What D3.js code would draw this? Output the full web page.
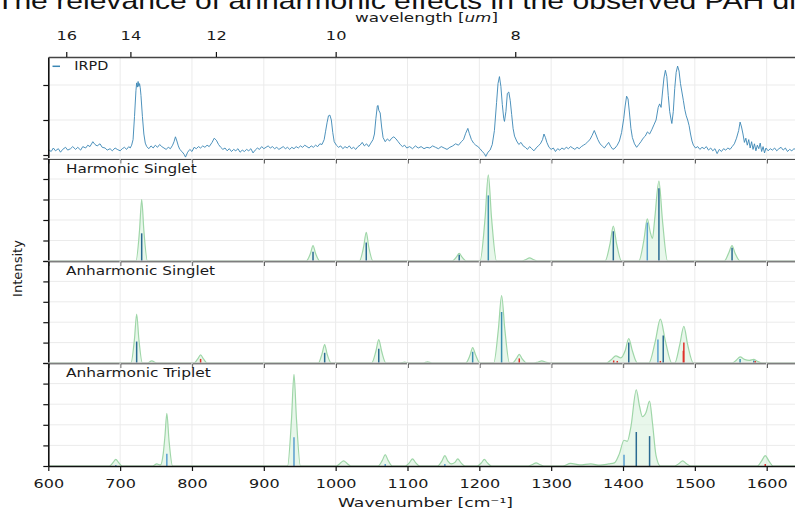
<!DOCTYPE html>
<html>
<head>
<meta charset="utf-8">
<script src="https://cdn.jsdelivr.net/npm/d3@7"></script>
<style>
  body { margin: 0; background: #fff; overflow: hidden; }
  svg { display: block; font-family: "DejaVu Sans", sans-serif; }
</style>
</head>
<body>
<svg id="chart" width="795" height="516"></svg>
<script>
// ---- data ----
var wnTicks = [600, 700, 800, 900, 1000, 1100, 1200, 1300, 1400, 1500, 1600];
var wavelengthTicks = [16, 14, 12, 10, 8];
var panelNames = ["IRPD", "Harmonic Singlet", "Anharmonic Singlet", "Anharmonic Triplet"];

// measured IRPD spectrum [wavenumber, intensity]
var irpd = [
  [600,0.08],[604,0.05],[607,0.10],[610,0.06],[614,0.09],[617,0.04],[620,0.08],[624,0.11],[627,0.07],[631,0.09],
  [634,0.12],[638,0.08],[641,0.11],[645,0.07],[648,0.12],[652,0.10],[655,0.14],[658,0.12],[662,0.19],[665,0.15],
  [668,0.13],[672,0.16],[675,0.11],[679,0.10],[682,0.07],[686,0.09],[689,0.06],[693,0.10],[696,0.08],[700,0.06],
  [703,0.09],[706,0.11],[709,0.08],[712,0.12],[714,0.10],[716,0.14],[718,0.22],[720,0.55],[722,0.92],[723,1.03],
  [724,0.97],[725,1.05],[726,0.98],[727,1.02],[728,0.96],[729,0.85],[731,0.55],[733,0.30],[735,0.17],[737,0.12],
  [740,0.09],[743,0.13],[746,0.10],[749,0.14],[752,0.11],[755,0.15],[758,0.12],[761,0.10],[764,0.08],[767,0.11],
  [770,0.09],[773,0.14],[775,0.19],[777,0.26],[779,0.20],[781,0.13],[783,0.08],[786,0.05],[789,0.01],[791,-0.03],
  [794,0.04],[797,0.08],[800,0.05],[803,0.11],[806,0.09],[809,0.12],[812,0.10],[815,0.13],[818,0.11],[821,0.14],
  [824,0.12],[828,0.18],[831,0.24],[834,0.21],[837,0.15],[840,0.11],[843,0.08],[846,0.10],[849,0.06],[852,0.09],
  [855,0.05],[858,0.08],[861,0.06],[864,0.09],[867,0.04],[870,0.07],[873,0.05],[876,0.08],[879,0.06],[882,0.09],
  [885,0.03],[888,0.07],[891,0.10],[894,0.08],[897,0.12],[900,0.09],[903,0.11],[906,0.13],[909,0.10],[912,0.12],
  [915,0.09],[918,0.11],[921,0.08],[924,0.10],[927,0.12],[930,0.09],[933,0.11],[936,0.08],[939,0.11],[942,0.09],
  [945,0.12],[948,0.10],[951,0.13],[954,0.11],[957,0.14],[960,0.12],[963,0.10],[966,0.13],[969,0.11],[972,0.14],
  [975,0.12],[978,0.16],[981,0.15],[984,0.22],[986,0.34],[988,0.46],[990,0.56],[992,0.57],[994,0.50],[996,0.32],
  [998,0.19],[1001,0.14],[1004,0.11],[1007,0.13],[1010,0.09],[1013,0.12],[1016,0.10],[1019,0.13],[1022,0.09],[1025,0.11],
  [1028,0.08],[1031,0.12],[1034,0.14],[1037,0.18],[1040,0.13],[1043,0.16],[1046,0.12],[1049,0.17],[1052,0.22],[1054,0.30],
  [1056,0.52],[1058,0.70],[1059,0.71],[1060,0.64],[1062,0.60],[1064,0.40],[1066,0.25],[1069,0.19],[1072,0.23],[1075,0.20],
  [1078,0.24],[1081,0.26],[1084,0.23],[1087,0.19],[1090,0.15],[1093,0.12],[1096,0.14],[1099,0.10],[1103,0.12],[1107,0.09],
  [1111,0.13],[1115,0.10],[1119,0.12],[1123,0.09],[1127,0.11],[1131,0.10],[1135,0.13],[1139,0.11],[1143,0.09],[1147,0.12],
  [1151,0.10],[1155,0.08],[1159,0.11],[1163,0.13],[1167,0.16],[1171,0.14],[1175,0.19],[1178,0.22],[1181,0.31],[1184,0.38],
  [1186,0.31],[1189,0.22],[1192,0.17],[1195,0.14],[1198,0.12],[1201,0.09],[1204,0.05],[1207,0.02],[1209,-0.02],[1212,0.04],
  [1215,0.07],[1218,0.15],[1221,0.35],[1224,0.75],[1226,1.02],[1228,1.12],[1230,0.98],[1232,0.72],[1234,0.52],[1235,0.48],
  [1237,0.62],[1239,0.88],[1241,0.90],[1243,0.78],[1245,0.58],[1247,0.38],[1249,0.27],[1252,0.20],[1255,0.15],[1258,0.18],
  [1261,0.13],[1264,0.11],[1267,0.08],[1270,0.12],[1273,0.09],[1276,0.06],[1279,0.10],[1282,0.13],[1285,0.16],[1288,0.22],
  [1290,0.30],[1292,0.25],[1294,0.18],[1297,0.11],[1300,0.08],[1303,0.10],[1306,0.05],[1309,0.09],[1312,0.07],[1315,0.10],
  [1318,0.08],[1321,0.11],[1324,0.09],[1327,0.12],[1330,0.10],[1333,0.08],[1336,0.11],[1339,0.09],[1342,0.12],[1345,0.14],
  [1348,0.16],[1351,0.19],[1354,0.22],[1357,0.28],[1360,0.35],[1362,0.30],[1365,0.22],[1368,0.16],[1371,0.13],[1374,0.10],
  [1377,0.14],[1380,0.18],[1383,0.12],[1386,0.08],[1389,0.10],[1392,0.14],[1395,0.20],[1398,0.32],[1401,0.52],[1403,0.70],
  [1405,0.84],[1407,0.80],[1409,0.60],[1411,0.38],[1413,0.25],[1416,0.16],[1419,0.11],[1422,0.15],[1425,0.19],[1428,0.24],
  [1431,0.27],[1434,0.33],[1437,0.30],[1440,0.36],[1443,0.43],[1446,0.50],[1449,0.68],[1451,0.73],[1453,0.68],[1455,0.90],
  [1457,1.10],[1459,1.21],[1461,1.12],[1463,0.85],[1465,0.62],[1467,0.50],[1468,0.45],[1470,0.62],[1472,0.95],[1474,1.18],
  [1476,1.27],[1478,1.20],[1480,1.02],[1482,0.90],[1484,0.78],[1486,0.65],[1488,0.56],[1490,0.50],[1492,0.42],[1494,0.30],
  [1496,0.20],[1498,0.14],[1501,0.10],[1504,0.12],[1507,0.08],[1510,0.11],[1513,0.09],[1516,0.12],[1519,0.07],[1522,0.10],
  [1525,0.06],[1528,0.09],[1531,0.02],[1534,0.08],[1537,0.05],[1540,0.09],[1543,0.07],[1546,0.10],[1549,0.08],[1552,0.12],
  [1555,0.16],[1558,0.24],[1561,0.35],[1563,0.47],[1565,0.40],[1567,0.30],[1569,0.18],[1571,0.24],[1573,0.14],[1575,0.22],
  [1577,0.10],[1579,0.19],[1581,0.08],[1583,0.16],[1585,0.06],[1587,0.14],[1589,0.09],[1591,0.17],[1593,0.05],[1595,0.12],
  [1597,0.03],[1599,0.10],[1602,0.06],[1605,0.09],[1608,0.07],[1611,0.10],[1614,0.06],[1617,0.09],[1620,0.11],[1623,0.07],
  [1626,0.10],[1629,0.05],[1632,0.08],[1635,0.06],[1638,0.09],[1642,0.07],[1646,0.08],[1650,0.06]
];

// broadened envelopes [wavenumber, intensity]
var harmonicEnvelope = [
  [600,0],[722,0],[727,0.3],[730,0.6],[733,0.3],[738,0],
  [959,0],[965,0.075],[968.5,0.15],[972,0.075],[978,0],
  [1033,0],[1039,0.14],[1042.6,0.28],[1046,0.14],[1052,0],
  [1162,0],[1168,0.037],[1172,0.075],[1176,0.037],[1182,0],
  [1201,0],[1208,0.42],[1212.5,0.84],[1217,0.42],[1224,0],
  [1259,0],[1265,0.015],[1270,0.03],[1275,0.015],[1281,0],
  [1375,0],[1382,0.17],[1386.5,0.34],[1391,0.17],[1398,0],
  [1422,0],[1429,0.2],[1433.8,0.41],[1438,0.28],[1441,0.22],[1444,0.4],[1450,0.78],[1455,0.39],[1462,0],
  [1541,0],[1547,0.075],[1551.8,0.15],[1556,0.075],[1563,0],[1650,0]
];
var anharmSingletEnvelope = [
  [600,0],[715,0],[720,0.24],[723,0.48],[726,0.24],[731,0],
  [738,0],[744,0.02],[751,0],
  [803,0],[808,0.04],[812,0.08],[816,0.04],[821,0],
  [976,0],[981,0.09],[984.7,0.18],[988,0.09],[994,0],
  [1050,0],[1056,0.115],[1060,0.23],[1064,0.115],[1070,0],
  [1090,0],[1096,0.01],[1102,0],
  [1122,0],[1128,0.012],[1134,0],
  [1181,0],[1187,0.075],[1190.7,0.15],[1195,0.075],[1201,0],
  [1220,0],[1226.5,0.33],[1231,0.66],[1235.5,0.33],[1242,0],
  [1246,0],[1251.5,0.042],[1255.6,0.085],[1259.5,0.042],[1266,0],
  [1276,0],[1282,0.01],[1287,0.02],[1292,0.01],[1298,0],
  [1377,0],[1384,0.035],[1390,0.07],[1397,0.05],[1403,0.12],[1408,0.24],[1413,0.12],[1420,0],
  [1436,0],[1445,0.215],[1452,0.43],[1459,0.215],[1468,0],
  [1472,0],[1479,0.18],[1484.7,0.36],[1490,0.18],[1498,0],
  [1552,0],[1558,0.03],[1563,0.06],[1569,0.035],[1576,0.025],[1582,0.035],[1587,0.017],[1593,0],[1650,0]
];
var anharmTripletEnvelope = [
  [600,0],[685,0],[690,0.032],[694,0.065],[698,0.032],[703,0],
  [745,0],[751,0.02],[756,0.01],[760,0.12],[762.5,0.3],[765,0.51],[768,0.25],[773,0],
  [933,0],[938.5,0.45],[942,0.89],[945.5,0.45],[951,0],
  [1001,0],[1006,0.025],[1011,0.05],[1016,0.025],[1021,0],
  [1059,0],[1065,0.055],[1069,0.11],[1073,0.055],[1079,0],
  [1097,0],[1103,0.035],[1107,0.07],[1111,0.035],[1117,0],
  [1142,0],[1148,0.05],[1152,0.10],[1156,0.05],[1161,0.02],[1166,0.035],[1170,0.07],[1174,0.035],[1180,0],
  [1197,0],[1203,0.032],[1207,0.065],[1211,0.032],[1217,0],
  [1268,0],[1274,0.015],[1279,0.03],[1284,0.015],[1290,0],
  [1316,0],[1327,0.025],[1340,0.01],[1355,0.02],[1368,0.008],[1380,0.02],[1388,0.03],[1395,0.12],
  [1401.4,0.25],[1406,0.24],[1411,0.38],[1418.5,0.74],[1423,0.58],[1427,0.48],[1432,0.52],[1437,0.63],
  [1441,0.42],[1446,0.1],[1452,0],
  [1472,0],[1478,0.025],[1483,0.05],[1488,0.025],[1494,0],
  [1587,0],[1593,0.05],[1598,0.10],[1603,0.05],[1609,0],[1650,0]
];

// stick spectra [wavenumber, intensity, colour key]
var harmonicSticks = [
  [730,0.27,"d"],[968.5,0.09,"d"],[1042.6,0.18,"d"],[1172,0.06,"d"],[1212.5,0.64,"m"],
  [1386.5,0.29,"d"],[1433.8,0.375,"l"],[1450,0.71,"d"],[1551.8,0.13,"d"]
];
var anharmSingletSticks = [
  [723,0.21,"d"],[812,0.04,"r"],[984.7,0.10,"d"],[1060,0.14,"d"],[1190.7,0.11,"m"],[1231,0.50,"m"],
  [1255.6,0.045,"r"],[1387,0.025,"r"],[1392,0.02,"r"],[1408,0.20,"d"],[1448.6,0.23,"l"],[1456,0.27,"d"],
  [1452,0.02,"r"],[1484.7,0.20,"r"],[1484,0.12,"r"],[1563,0.04,"m"],[1582,0.025,"m"],[1584,0.02,"r"]
];
var anharmTripletSticks = [
  [694,0.01,"l"],[765,0.12,"l"],[942,0.28,"l"],[1069,0.02,"l"],[1152,0.02,"l"],
  [1401.4,0.11,"l"],[1418.5,0.33,"d"],[1437,0.29,"d"],[1598,0.02,"r"]
];

var stickColors = { d: "#2a6a92", m: "#3b8fb0", l: "#5a9fd0", r: "#e0302a" };
var irpdColor = "#3a86b4";

// ---- layout ----
var svg = d3.select("#chart");
var x = d3.scaleLinear().domain([600, 1650]).range([48.3, 802.6]);

var panels = [
  { top: 57, bottom: 158.5, domain: [-0.05, 1.4], ticks: [0, 0.5, 1.0] },
  { top: 158.5, bottom: 261, domain: [0, 1], ticks: [0, 0.2, 0.4, 0.6, 0.8, 1.0], env: harmonicEnvelope, sticks: harmonicSticks },
  { top: 261, bottom: 363, domain: [0, 1], ticks: [0, 0.2, 0.4, 0.6, 0.8, 1.0], env: anharmSingletEnvelope, sticks: anharmSingletSticks },
  { top: 363, bottom: 466, domain: [0, 1], ticks: [0, 0.2, 0.4, 0.6, 0.8, 1.0], env: anharmTripletEnvelope, sticks: anharmTripletSticks }
];
var labelWidths = [34, 130.7, 149, 144.7];

function addText(g, px, py, str, size, len, anchor) {
  var t = g.append("text")
    .attr("x", px).attr("y", py)
    .attr("font-size", size)
    .attr("fill", "#1a1a1a")
    .attr("text-anchor", anchor || "start")
    .text(str);
  if (len) t.attr("textLength", len).attr("lengthAdjust", "spacingAndGlyphs");
  return t;
}

panels.forEach(function (p, i) {
  var y = d3.scaleLinear().domain(p.domain).range([p.bottom, p.top]);
  var g = svg.append("g");

  // grid
  g.selectAll(".vgrid").data(wnTicks).enter().append("line")
    .attr("x1", function (d) { return x(d); }).attr("x2", function (d) { return x(d); })
    .attr("y1", p.top).attr("y2", p.bottom)
    .attr("stroke", "#ebebeb").attr("stroke-width", 1);
  g.selectAll(".hgrid").data(p.ticks).enter().append("line")
    .attr("x1", 48).attr("x2", 795)
    .attr("y1", function (d) { return y(d); }).attr("y2", function (d) { return y(d); })
    .attr("stroke", "#ebebeb").attr("stroke-width", 1);

  if (i === 0) {
    g.append("path").datum(irpd)
      .attr("fill", "none").attr("stroke", irpdColor).attr("stroke-width", 0.9)
      .attr("d", d3.line().x(function (d) { return x(d[0]); }).y(function (d) { return y(d[1]); }));
  } else {
    g.append("path").datum(p.env)
      .attr("fill", "#d9f1dd").attr("fill-opacity", 0.6)
      .attr("d", d3.area().curve(d3.curveMonotoneX)
        .x(function (d) { return x(d[0]); }).y0(y(0)).y1(function (d) { return y(d[1]); }));
    g.append("path").datum(p.env)
      .attr("fill", "none").attr("stroke", "#9fd6a8").attr("stroke-width", 1.2)
      .attr("d", d3.line().curve(d3.curveMonotoneX)
        .x(function (d) { return x(d[0]); }).y(function (d) { return y(d[1]); }));
    g.selectAll(".stick").data(p.sticks).enter().append("line")
      .attr("x1", function (d) { return x(d[0]); }).attr("x2", function (d) { return x(d[0]); })
      .attr("y1", y(0)).attr("y2", function (d) { return y(d[1]); })
      .attr("stroke", function (d) { return stickColors[d[2]]; })
      .attr("stroke-width", 1.5);
  }

  // axes
  var bottom = d3.axisBottom(x).tickValues(wnTicks).tickSize(5).tickSizeOuter(0).tickPadding(8)
    .tickFormat(i < 3 ? "" : d3.format("d"));
  var ax = g.append("g").attr("transform", "translate(0," + p.bottom + ")").call(bottom);
  ax.select(".domain").attr("stroke", "#111").attr("stroke-width", 1.6);
  ax.selectAll(".tick line").attr("stroke", "#111").attr("stroke-width", 1.2);
  ax.selectAll("text").attr("font-size", 13).attr("font-family", "DejaVu Sans")
    .attr("fill", "#1a1a1a")
    .each(function (d) {
      d3.select(this).attr("textLength", String(d).length * 10.2).attr("lengthAdjust", "spacingAndGlyphs");
    });

  var left = d3.axisLeft(y).tickValues(p.ticks).tickSize(5).tickSizeOuter(0).tickFormat("");
  var ay = g.append("g").attr("transform", "translate(48.3,0)").call(left);
  ay.select(".domain").attr("stroke", "#111").attr("stroke-width", 1.6);
  ay.selectAll(".tick line").attr("stroke", "#111").attr("stroke-width", 1.2);

  // panel labels
  if (i === 0) {
    g.append("line").attr("x1", 52.5).attr("x2", 60).attr("y1", 66.3).attr("y2", 66.3)
      .attr("stroke", irpdColor).attr("stroke-width", 1.5);
    addText(g, 74.3, 70.3, panelNames[0], 12.5, labelWidths[0]);
  } else {
    addText(g, 66, p.top + 14.2, panelNames[i], 12.5, labelWidths[i]);
  }
});

// top wavelength axis
var topAxis = d3.axisTop(x)
  .tickValues(wavelengthTicks.map(function (l) { return 1e4 / l; }))
  .tickFormat(function (d, i) { return wavelengthTicks[i]; })
  .tickSize(5).tickSizeOuter(0).tickPadding(12.5);
var at = svg.append("g").attr("transform", "translate(0,57)").call(topAxis);
at.select(".domain").attr("stroke", "#444").attr("stroke-width", 1.4);
at.selectAll(".tick line").attr("stroke", "#111").attr("stroke-width", 1.2);
at.selectAll("text").attr("font-size", 13).attr("font-family", "DejaVu Sans").attr("fill", "#1a1a1a")
  .each(function (d, i) {
    d3.select(this).attr("textLength", String(wavelengthTicks[i]).length * 10.3).attr("lengthAdjust", "spacingAndGlyphs");
  });

// axis titles
var wl = svg.append("text").attr("x", 426.5).attr("y", 22).attr("font-size", 12.5)
  .attr("text-anchor", "middle").attr("fill", "#1a1a1a")
  .attr("textLength", 143).attr("lengthAdjust", "spacingAndGlyphs");
wl.append("tspan").text("wavelength [");
wl.append("tspan").attr("font-style", "italic").text("um");
wl.append("tspan").text("]");

addText(svg, 425.5, 507, "Wavenumber [cm\u207B\u00B9]", 13, 175, "middle");
addText(svg, 0, 0, "Intensity", 13, 57, "middle")
  .attr("transform", "translate(22,268.5) rotate(-90)");

// title (cropped at the top and right in the original)
svg.append("text").attr("x", -4).attr("y", 9)
  .attr("font-family", "Liberation Sans, Arial, sans-serif").attr("font-size", 24)
  .attr("fill", "#111")
  .attr("textLength", 800).attr("lengthAdjust", "spacingAndGlyphs")
  .text("The relevance of anharmonic effects in the observed PAH di");
</script>
</body>
</html>
